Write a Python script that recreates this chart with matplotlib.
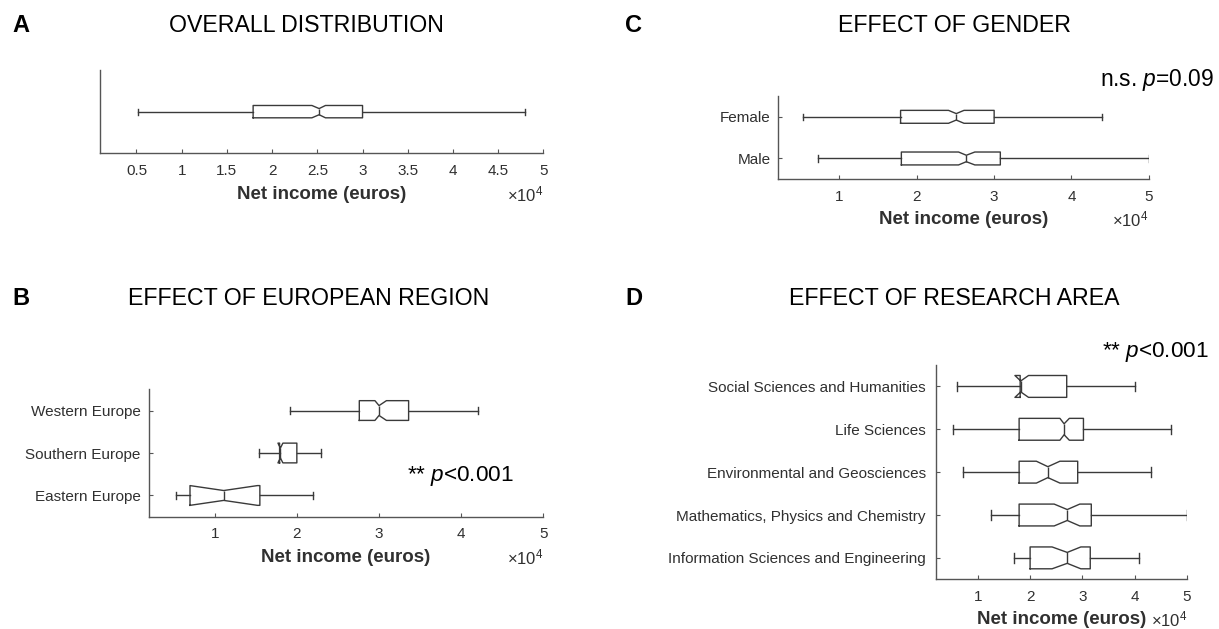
import matplotlib
matplotlib.use("Agg")
import matplotlib.pyplot as plt
from matplotlib.ticker import FuncFormatter

plt.rcParams['font.family'] = ['Liberation Sans', 'DejaVu Sans']
plt.rcParams['mathtext.fontset'] = 'custom'
plt.rcParams['mathtext.rm'] = 'Liberation Sans'
plt.rcParams['mathtext.it'] = 'Liberation Sans:italic'

W, H = 1219, 629

# box statistics in euros, listed bottom to top
overall_labels = ['']
overall_whislo = [5200]
overall_q1 = [17900]
overall_med = [25200]
overall_q3 = [30000]
overall_whishi = [48000]
overall_cilo = [24400]
overall_cihi = [25900]

gender_labels = ['Male', 'Female']
gender_whislo = [7200, 5300]
gender_q1 = [18000, 17900]
gender_med = [26400, 25100]
gender_q3 = [30800, 30000]
gender_whishi = [50000, 44000]
gender_cilo = [25400, 24100]
gender_cihi = [27500, 26100]

region_labels = ['Eastern Europe', 'Southern Europe', 'Western Europe']
region_whislo = [5300, 15400, 19200]
region_q1 = [7000, 17900, 27600]
region_med = [11100, 18000, 30000]
region_q3 = [15500, 20000, 33600]
region_whishi = [22000, 23000, 42000]
region_cilo = [7000, 17700, 29500]
region_cihi = [15200, 18300, 30900]

area_labels = ['Information Sciences and Engineering',
               'Mathematics, Physics and Chemistry',
               'Environmental and Geosciences',
               'Life Sciences',
               'Social Sciences and Humanities']
area_whislo = [17000, 12500, 7100, 5200, 6000]
area_q1 = [20000, 17900, 17900, 17900, 18100]
area_med = [27100, 27100, 23400, 26500, 18200]
area_q3 = [31500, 31700, 29100, 30200, 27000]
area_whishi = [40800, 50000, 43100, 47000, 40000]
area_cilo = [24200, 24600, 21200, 25700, 17100]
area_cihi = [29700, 29500, 25700, 27500, 19700]

LINE = '#3a3a3a'
TXT = '#303030'


def rect(l, t, r, b):
    return [l / W, 1 - b / H, (r - l) / W, (b - t) / H]


def stats(labels, lo, q1, med, q3, hi, cilo, cihi):
    out = []
    for i in range(len(labels)):
        out.append(dict(label=labels[i], whislo=lo[i], q1=q1[i], med=med[i],
                        q3=q3[i], whishi=hi[i], cilo=cilo[i], cihi=cihi[i],
                        fliers=[]))
    return out


def panel(ax, st, xmin, ticks, width, capw, ypad, xlab_y, show_y=True):
    n = len(st)
    ax.bxp(st, positions=range(1, n + 1), widths=width, capwidths=capw,
           orientation='horizontal', shownotches=True, showfliers=False,
           boxprops=dict(color=LINE, linewidth=1.0),
           whiskerprops=dict(color=LINE, linewidth=1.0),
           capprops=dict(color=LINE, linewidth=1.0),
           medianprops=dict(color=LINE, linewidth=1.0))
    ax.set_xlim(xmin, 50000)
    ax.set_ylim(0.5, n + 0.5)
    ax.set_xticks(ticks)
    ax.xaxis.set_major_formatter(FuncFormatter(lambda v, p: f'{v / 1e4:g}'))
    for s in ['top', 'right']:
        ax.spines[s].set_visible(False)
    for s in ['left', 'bottom']:
        ax.spines[s].set_color('#555555')
        ax.spines[s].set_linewidth(1.0)
    ax.tick_params(axis='x', direction='in', length=3, width=0.8,
                   colors='#555555', labelcolor=TXT, labelsize=11, pad=7.5)
    if show_y:
        ax.tick_params(axis='y', direction='in', length=3, width=0.8,
                       colors='#555555', labelcolor=TXT, labelsize=11, pad=ypad)
    else:
        ax.set_yticks([])
    ax.set_xlabel('Net income (euros)', fontsize=13.5, fontweight='bold',
                  color=TXT, va='center')
    ax.xaxis.set_label_coords(0.5, xlab_y)
    ax.text(1.0, xlab_y, r'$\times\mathregular{10^{4}}$', transform=ax.transAxes,
            ha='right', va='center', fontsize=12, color=TXT)


fig = plt.figure(figsize=(W / 100, H / 100), dpi=100)

big = [10000, 20000, 30000, 40000, 50000]

# A
l, t, r, b = 100.3, 70, 543.4, 153.3
axA = fig.add_axes(rect(l, t, r, b))
panel(axA, stats(overall_labels, overall_whislo, overall_q1, overall_med, overall_q3,
                 overall_whishi, overall_cilo, overall_cihi),
      1000, list(range(5000, 50001, 5000)), 0.148, 0.072, 5, -(194.5 - b) / (b - t),
      show_y=False)

# C
l, t, r, b = 778.4, 96, 1148.8, 179.3
axC = fig.add_axes(rect(l, t, r, b))
panel(axC, stats(gender_labels, gender_whislo, gender_q1, gender_med, gender_q3,
                 gender_whishi, gender_cilo, gender_cihi),
      2100, big, 0.31, 0.15, 5.5, -(219.5 - b) / (b - t))

# B
l, t, r, b = 148.5, 389.3, 543.4, 516.7
axB = fig.add_axes(rect(l, t, r, b))
panel(axB, stats(region_labels, region_whislo, region_q1, region_med, region_q3,
                 region_whishi, region_cilo, region_cihi),
      1950, big, 0.465, 0.18, 5.5, -(557.3 - b) / (b - t))

# D
l, t, r, b = 935.6, 365, 1187, 579.3
axD = fig.add_axes(rect(l, t, r, b))
panel(axD, stats(area_labels, area_whislo, area_q1, area_med, area_q3,
                 area_whishi, area_cilo, area_cihi),
      1930, big, 0.51, 0.22, 7, -(619 - b) / (b - t))

# titles and panel letters
for letter, lx, title, tx, ty in [('A', 12, 'OVERALL DISTRIBUTION', 306, 25.3),
                                  ('C', 625, 'EFFECT OF GENDER', 954, 25.3),
                                  ('B', 12, 'EFFECT OF EUROPEAN REGION', 309, 298.3),
                                  ('D', 625, 'EFFECT OF RESEARCH AREA', 954, 298.3)]:
    fig.text(lx / W, 1 - ty / H, letter, fontsize=17, fontweight='bold',
             ha='left', va='center', color='black')
    fig.text(tx / W, 1 - ty / H, title, fontsize=16.7, ha='center', va='center',
             color='black')

fig.text(1100 / W, 1 - 80 / H, 'n.s. $p$=0.09', fontsize=16.4, ha='left', va='center')
fig.text(406.7 / W, 1 - 476.5 / H, '** $p$<0.001', fontsize=16.2, ha='left', va='center')
fig.text(1102 / W, 1 - 351.7 / H, '** $p$<0.001', fontsize=16.2, ha='left', va='center')

fig.savefig('out.png', dpi=100, facecolor='white')
